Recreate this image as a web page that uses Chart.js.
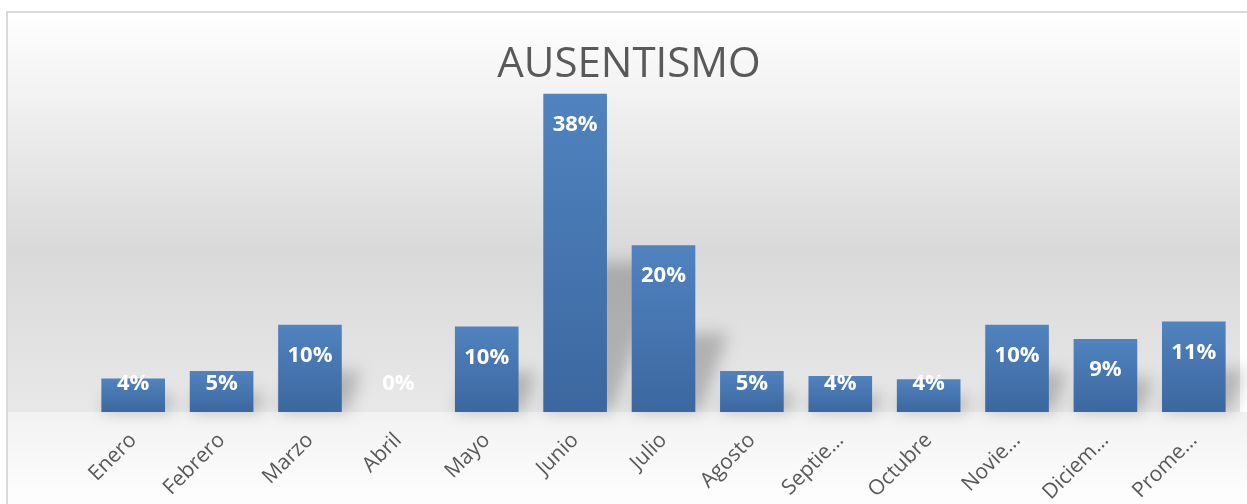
<!DOCTYPE html>
<html>
<head>
<meta charset="utf-8">
<script src="https://cdn.jsdelivr.net/npm/chart.js@4/dist/chart.umd.min.js"></script>
<style>
  html, body { margin: 0; padding: 0; background: #fff; }
  #wrap { position: relative; width: 1247px; height: 504px; }
</style>
</head>
<body>
<div id="wrap"><canvas id="chart" width="1247" height="504"></canvas></div>
<script>
// Data
const months = ['Enero', 'Febrero', 'Marzo', 'Abril', 'Mayo', 'Junio', 'Julio', 'Agosto',
    'Septiembre', 'Octubre', 'Noviembre', 'Diciembre', 'Promedio'];
// labels as Excel shows them (long ones are cut)
const tickLabels = ['Enero', 'Febrero', 'Marzo', 'Abril', 'Mayo', 'Junio', 'Julio', 'Agosto',
    'Septie…', 'Octubre', 'Novie…', 'Diciem…', 'Prome…'];
const ausentismo = [0.040, 0.049, 0.104, 0, 0.102, 0.380, 0.199, 0.049, 0.043, 0.039, 0.104, 0.087, 0.108];

const ctxEl = document.getElementById('chart');

// gray gradient background + thin frame on top/left
const backgroundPlugin = {
    id: 'bg',
    beforeDraw(chart) {
        const ctx = chart.ctx;
        const base = chart.chartArea.bottom;
        ctx.save();
        let g = ctx.createLinearGradient(0, 12, 0, base);
        g.addColorStop(0, '#ffffff');
        g.addColorStop(0.6, '#d9d9d9');
        g.addColorStop(1, '#e8e8e8');
        ctx.fillStyle = g;
        ctx.fillRect(8, 12, 1232, base - 12);
        g = ctx.createLinearGradient(0, base, 0, chart.height);
        g.addColorStop(0, '#f2f2f2');
        g.addColorStop(1, '#fefefe');
        ctx.fillStyle = g;
        ctx.fillRect(8, base, chart.width - 8, chart.height - base);
        ctx.fillStyle = '#d9d9d9';
        ctx.fillRect(6, 11, chart.width - 6, 2);
        ctx.fillRect(6, 11, 2, chart.height - 11);
        ctx.restore();
    }
};

// soft slanted shadow behind each bar
const shadowPlugin = {
    id: 'barShadow',
    beforeDatasetsDraw(chart) {
        const ctx = chart.ctx;
        const meta = chart.getDatasetMeta(0);
        ctx.save();
        ctx.filter = 'blur(8px)';
        ctx.fillStyle = 'rgba(0,0,0,0.22)';
        meta.data.forEach(bar => {
            const p = bar.getProps(['x', 'y', 'base', 'width'], true);
            const h = p.base - p.y;
            if (h < 1) return;
            const l = p.x - p.width / 2, r = p.x + p.width / 2;
            const top = p.base - h * 0.47, shift = h * 0.17;
            ctx.beginPath();
            ctx.moveTo(l, p.base);
            ctx.lineTo(r + 6, p.base);
            ctx.lineTo(r + shift + 4, top);
            ctx.lineTo(l + shift, top);
            ctx.closePath();
            ctx.fill();
        });
        ctx.restore();
    }
};

// value labels inside the bar end
const valueLabels = {
    id: 'valueLabels',
    afterDatasetsDraw(chart) {
        const ctx = chart.ctx;
        const meta = chart.getDatasetMeta(0);
        ctx.save();
        ctx.font = 'bold 22px "Open Sans"';
        ctx.fillStyle = '#ffffff';
        ctx.textAlign = 'center';
        ctx.textBaseline = 'middle';
        meta.data.forEach((bar, i) => {
            const p = bar.getProps(['x', 'y', 'base'], true);
            const y = Math.min(p.y + 31, p.base - 28);
            ctx.fillText(Math.round(ausentismo[i] * 100) + '%', p.x, y);
        });
        ctx.restore();
    }
};

function barFill(context) {
    const chart = context.chart;
    const y = chart.scales.y;
    if (!chart.chartArea || !y || context.dataIndex === undefined) return '#4a78b2';
    const top = y.getPixelForValue(context.raw);
    const base = y.getPixelForValue(0);
    if (base - top < 1) return '#4a78b2';
    const g = chart.ctx.createLinearGradient(0, top, 0, base);
    g.addColorStop(0, '#5083bf');
    g.addColorStop(1, '#3c679f');
    return g;
}

new Chart(ctxEl, {
    type: 'bar',
    plugins: [backgroundPlugin, shadowPlugin, valueLabels],
    data: {
        labels: tickLabels,
        datasets: [{
            label: 'Ausentismo',
            data: ausentismo,
            backgroundColor: barFill,
            borderWidth: 0,
            barPercentage: 0.72,
            categoryPercentage: 1
        }]
    },
    options: {
        responsive: false,
        animation: false,
        layout: { padding: { top: 12, left: 20, right: 9, bottom: 0 } },
        plugins: {
            legend: { display: false },
            tooltip: { enabled: false },
            title: {
                display: true,
                text: 'AUSENTISMO',
                color: '#595959',
                font: { family: '"Open Sans"', size: 42, weight: 'normal' },
                padding: { top: 28, bottom: 3 }
            }
        },
        scales: {
            x: {
                grid: { display: false },
                border: { display: false },
                ticks: {
                    color: '#595959',
                    font: { family: '"Open Sans"', size: 21 },
                    minRotation: 45,
                    maxRotation: 45,
                    autoSkip: false,
                    padding: 8
                },
                afterFit(scale) { scale.height = 92; }
            },
            y: {
                min: 0,
                max: 0.38,
                grid: { display: false },
                border: { display: false },
                ticks: { display: false },
                afterFit(scale) { scale.width = 69; }
            }
        }
    }
});
</script>
</body>
</html>
